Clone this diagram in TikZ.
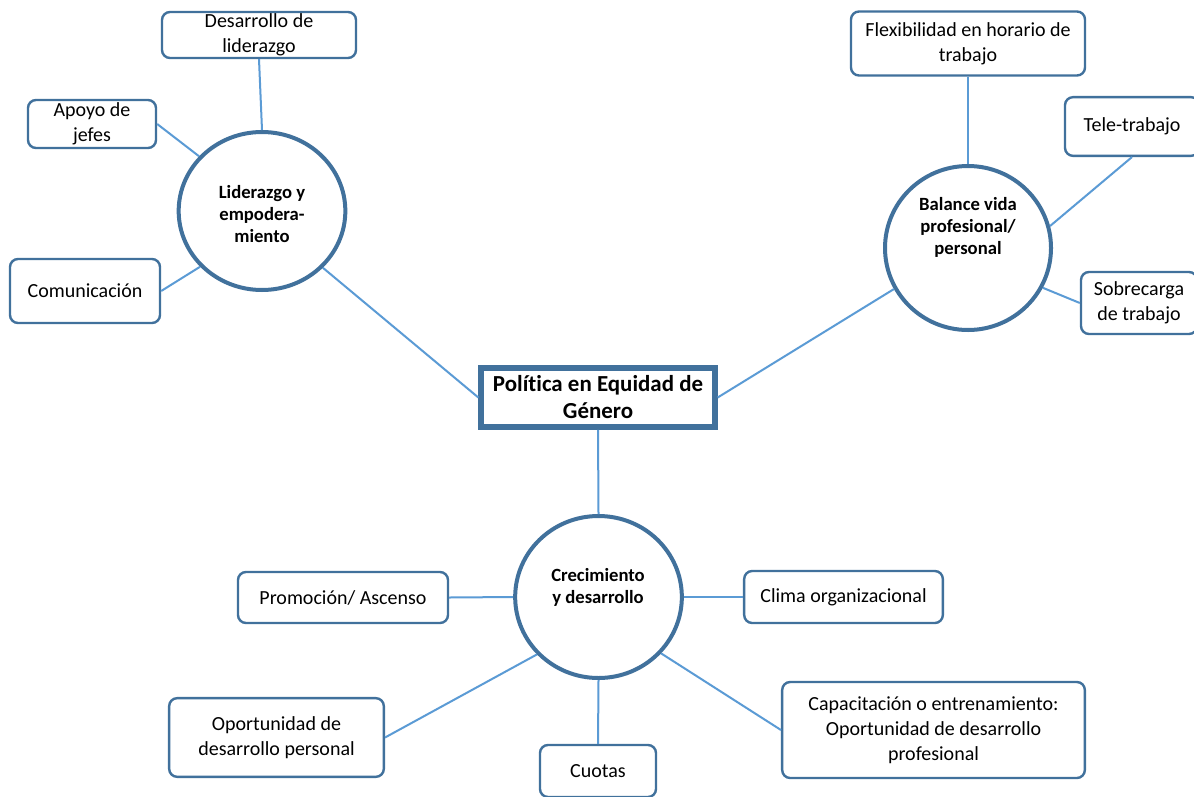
\documentclass[tikz,border=0pt]{standalone}
\usepackage{fontspec}
\setmainfont{Carlito}[Ligatures=NoCommon]
\usetikzlibrary{shapes.geometric}
\definecolor{bord}{HTML}{41719C}
\definecolor{conn}{HTML}{5B9BD5}
\begin{document}
\begin{tikzpicture}[x=0.75pt,y=-0.75pt,
  leaf/.style={draw=bord,line width=1.8pt,rounded corners=6pt,fill=white,align=center,
    font=\fontsize{15}{18.75}\selectfont,inner sep=0pt},
  hub/.style={draw=bord,line width=3pt,ellipse,fill=white,inner sep=0pt},
  hubtext/.style={align=center,font=\fontsize{14}{16.5}\selectfont\bfseries,inner sep=0pt},
  core/.style={draw=bord,line width=4.5pt,fill=white,align=center,
    font=\fontsize{17.2}{20.25}\selectfont\bfseries,inner sep=0pt},
  link/.style={draw=conn,line width=1.5pt}]
\useasboundingbox (0,0) rectangle (1194,796);
\fill[white] (0,0) rectangle (1194,796);

% hubs
\node[hub,minimum width=125pt,minimum height=118.5pt] (lid) at (262,211) {};
\node[hub,minimum width=124.5pt,minimum height=123pt] (bal) at (968,248) {};
\node[hub,minimum width=125pt,minimum height=121.5pt] (cre) at (598.5,597) {};

% core
\node[core,minimum width=175pt,minimum height=44pt] (core) at (598,397.5) {Política en Equidad de\\Género};

% leaves
\node[leaf,minimum width=145.5pt,minimum height=34.5pt] (desl) at (259,35) {Desarrollo de\\liderazgo};
\node[leaf,minimum width=96pt,minimum height=36pt] (apoyo) at (92,124) {Apoyo de\\jefes};
\node[leaf,minimum width=112.5pt,minimum height=48pt] (com) at (85,291) {Comunicación};
\node[leaf,minimum width=175.5pt,minimum height=48pt] (flex) at (968,43.5) {Flexibilidad en horario de\\trabajo};
\node[leaf,minimum width=100.5pt,minimum height=44pt] (tele) at (1132,126.5) {Tele-trabajo};
\node[leaf,minimum width=87pt,minimum height=46.5pt] (sob) at (1139,303) {Sobrecarga\\de trabajo};
\node[leaf,minimum width=157.5pt,minimum height=38.25pt] (prom) at (343,597.5) {Promoción/ Ascenso};
\node[leaf,minimum width=149pt,minimum height=39pt] (clima) at (843.5,597) {Clima organizacional};
\node[leaf,minimum width=161pt,minimum height=59pt] (opp) at (276.5,737.5) {Oportunidad de\\desarrollo personal};
\node[leaf,minimum width=87pt,minimum height=39pt] (cuo) at (598,771) {Cuotas};
\node[leaf,minimum width=227pt,minimum height=72pt] (cap) at (933.5,730) {Capacitación o entrenamiento:\\Oportunidad de desarrollo\\profesional};

% connectors
\path[link] (desl.south) -- (lid.north);
\path[link] (apoyo.east) -- (lid.139);
\path[link] (com.east) -- (lid.222);
\path[link] (lid.-43) -- (core.west);
\path[link] (core.east) -- (bal.209);
\path[link] (core.south) -- (cre.north);
\path[link] (flex.south) -- (bal.north);
\path[link] (tele.south) -- (bal.15);
\path[link] (bal.-28) -- (sob.west);
\path[link] (prom.east) -- (cre.west);
\path[link] (clima.west) -- (cre.east);
\path[link] (opp.east) -- (cre.223);
\path[link] (cuo.north) -- (cre.south);
\path[link] (cap.west) -- (cre.-42);

% hub texts
\node[hubtext] (lidt) at (262,214) {Liderazgo y\\empodera-\\miento};
\node[hubtext] (balt) at (968,227) {Balance vida\\profesional/\\personal};
\node[hubtext] (cret) at (598,587) {Crecimiento\\y desarrollo};
\end{tikzpicture}
\end{document}
